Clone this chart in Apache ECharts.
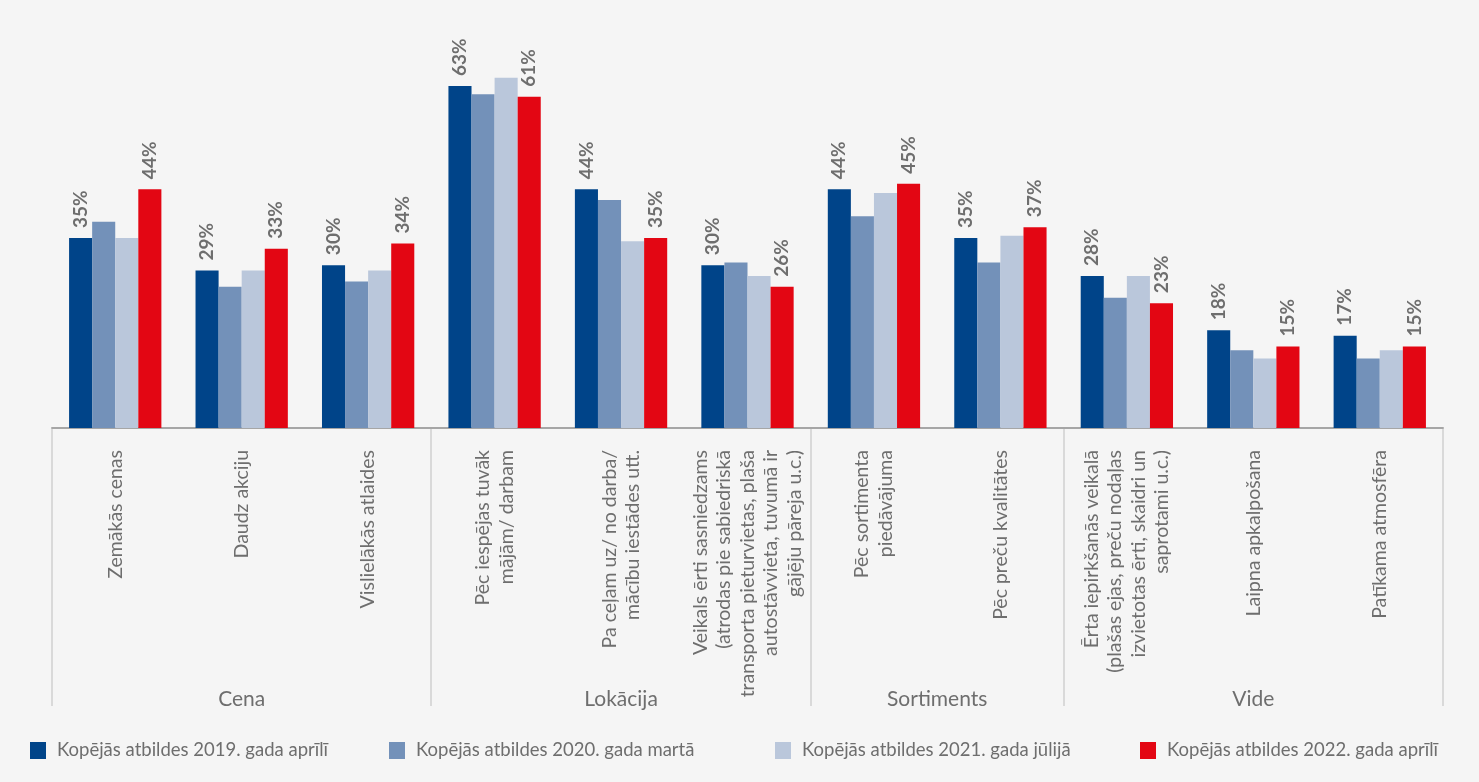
<!DOCTYPE html>
<html>
<head>
<meta charset="utf-8">
<script src="https://cdn.jsdelivr.net/npm/echarts@6/dist/echarts.min.js"></script>
<style>
  html, body { margin: 0; padding: 0; background: #f5f5f5; }
  #chart { width: 1479px; height: 782px; }
</style>
</head>
<body>
<div id="chart"></div>
<script>
// Reasons for choosing a shop, by survey wave (share of respondents, %)
const categories = [
  'Zemākās cenas',
  'Daudz akciju',
  'Vislielākās atlaides',
  'Pēc iespējas tuvāk\nmājām/ darbam',
  'Pa ceļam uz/ no darba/\nmācību iestādes utt.',
  'Veikals ērti sasniedzams\n(atrodas pie sabiedriskā\ntransporta pieturvietas, plaša\nautostāvvieta, tuvumā ir\ngājēju pāreja u.c.)',
  'Pēc sortimenta\npiedāvājuma',
  'Pēc preču kvalitātes',
  'Ērta iepirkšanās veikalā\n(plašas ejas, preču nodaļas\nizvietotas ērti, skaidri un\nsaprotami u.c.)',
  'Laipna apkalpošana',
  'Patīkama atmosfēra'
];

const groupNames = ['Cena', 'Lokācija', 'Sortiments', 'Vide'];
const groupSizes = [3, 3, 2, 3];

const seriesNames = [
  'Kopējās atbildes 2019. gada aprīlī',
  'Kopējās atbildes 2020. gada martā',
  'Kopējās atbildes 2021. gada jūlijā',
  'Kopējās atbildes 2022. gada aprīlī'
];

const values2019 = [35, 29, 30, 63, 44, 30, 44, 35, 28, 18, 17];
const values2020 = [38, 26, 27, 61.5, 42, 30.5, 39, 30.5, 24, 14.3, 12.8];
const values2021 = [35, 29, 29, 64.5, 34.4, 28, 43.3, 35.4, 28, 12.8, 14.3];
const values2022 = [44, 33, 34, 61, 35, 26, 45, 37, 23, 15, 15];

const colors = ['#004489', '#7391b9', '#bac7db', '#e30613'];
const textGrey = '#6e6e6e';
const fontFamily = 'Lato, "Open Sans", sans-serif';

const chart = echarts.init(document.getElementById('chart'));

function barSeries(idx, data, withLabels) {
  return {
    name: seriesNames[idx],
    type: 'bar',
    data: data,
    barGap: '0%',
    barCategoryGap: '27%',
    itemStyle: { color: colors[idx] },
    label: {
      show: withLabels,
      position: 'top',
      rotate: 90,
      align: 'left',
      verticalAlign: 'middle',
      distance: 10,
      formatter: '{c}%',
      color: textGrey,
      fontFamily: fontFamily,
      fontWeight: 'bold',
      fontSize: 19
    }
  };
}

const legendLefts = [30, 389, 775, 1140];
const legends = seriesNames.map((name, i) => ({
  data: [name],
  left: legendLefts[i],
  top: 741,
  padding: 0,
  icon: 'rect',
  itemWidth: 16,
  itemHeight: 17,
  selectedMode: false,
  textStyle: {
    color: textGrey,
    fontFamily: fontFamily,
    fontSize: 18.5,
    padding: [0, 0, 0, 6]
  }
}));

chart.setOption({
  backgroundColor: '#f5f5f5',
  animation: false,
  legend: legends,
  grid: { left: 52, right: 36, top: 48, bottom: 354 },
  xAxis: {
    type: 'category',
    data: categories,
    axisLine: { lineStyle: { color: '#a6a6a6', width: 2 } },
    axisTick: { show: false },
    axisLabel: {
      interval: 0,
      rotate: 90,
      margin: 22,
      color: textGrey,
      fontFamily: fontFamily,
      fontSize: 19.5,
      lineHeight: 23.5
    }
  },
  yAxis: {
    type: 'value',
    min: 0,
    max: 70,
    show: false,
    splitLine: { show: false }
  },
  series: [
    barSeries(0, values2019, true),
    barSeries(1, values2020, false),
    barSeries(2, values2021, false),
    barSeries(3, values2022, true)
  ]
});

// Group separators and group titles below the category labels
function drawGroups() {
  const c0 = chart.convertToPixel({ xAxisIndex: 0 }, 0);
  const c1 = chart.convertToPixel({ xAxisIndex: 0 }, 1);
  const band = c1 - c0;
  const axisY = chart.convertToPixel({ yAxisIndex: 0 }, 0);
  const sepBottom = axisY + 278;
  const elements = [];
  let start = 0;
  const edges = [start];
  groupSizes.forEach(n => { start += n; edges.push(start); });
  edges.forEach(idx => {
    const x = Math.round(c0 - band / 2 + idx * band);
    elements.push({
      type: 'line',
      shape: { x1: x, y1: axisY + 1, x2: x, y2: sepBottom },
      style: { stroke: '#d9d9d9', lineWidth: 2 },
      silent: true
    });
  });
  groupNames.forEach((name, g) => {
    const xl = c0 - band / 2 + edges[g] * band;
    const xr = c0 - band / 2 + edges[g + 1] * band;
    elements.push({
      type: 'text',
      x: (xl + xr) / 2,
      y: axisY + 271,
      style: {
        text: name,
        fill: textGrey,
        font: '21px ' + fontFamily,
        align: 'center',
        verticalAlign: 'middle'
      },
      silent: true
    });
  });
  chart.setOption({ graphic: elements });
}
drawGroups();
</script>
</body>
</html>
